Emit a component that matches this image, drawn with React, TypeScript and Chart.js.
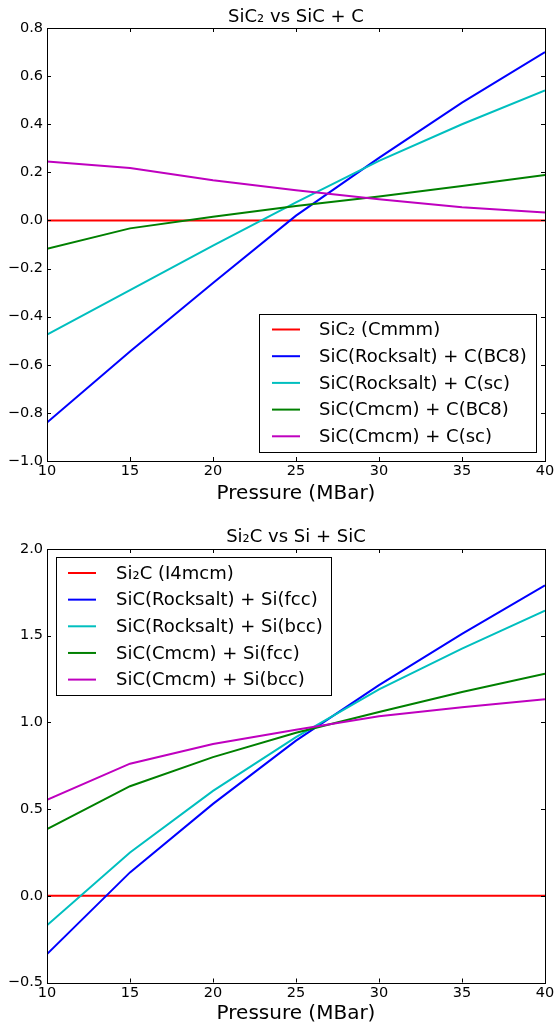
import React, { useEffect, useRef } from "react";
import { Chart, registerables } from "chart.js";

Chart.register(...registerables);

const FONT = "'DejaVu Sans', 'Noto Sans', sans-serif";

// ---------- shared ----------
const pressures = [10, 15, 20, 25, 30, 35, 40];
const xTickValues = [10, 15, 20, 25, 30, 35, 40];
const xAxisTitle = "Pressure (MBar)";
const seriesColors = ["#ff0000", "#0000ff", "#00bfbf", "#008000", "#bf00bf"];

// ---------- top panel: SiC2 vs SiC + C ----------
const topTitle = "SiC₂ vs SiC + C";
const topLabels = [
  "SiC₂ (Cmmm)",
  "SiC(Rocksalt) + C(BC8)",
  "SiC(Rocksalt) + C(sc)",
  "SiC(Cmcm) + C(BC8)",
  "SiC(Cmcm) + C(sc)",
];
const topSic2Cmmm = [0, 0, 0, 0, 0, 0, 0];
const topRocksaltBc8 = [-0.84, -0.545, -0.26, 0.02, 0.26, 0.49, 0.7];
const topRocksaltSc = [-0.475, -0.29, -0.105, 0.075, 0.248, 0.4, 0.54];
const topCmcmBc8 = [-0.118, -0.033, 0.015, 0.06, 0.1, 0.143, 0.189];
const topCmcmSc = [0.245, 0.218, 0.167, 0.126, 0.088, 0.055, 0.033];
const topYTicks = [-1.0, -0.8, -0.6, -0.4, -0.2, 0.0, 0.2, 0.4, 0.6, 0.8];

// ---------- bottom panel: Si2C vs Si + SiC ----------
const bottomTitle = "Si₂C vs Si + SiC";
const bottomLabels = [
  "Si₂C (I4mcm)",
  "SiC(Rocksalt) + Si(fcc)",
  "SiC(Rocksalt) + Si(bcc)",
  "SiC(Cmcm) + Si(fcc)",
  "SiC(Cmcm) + Si(bcc)",
];
const bottomSi2cI4mcm = [0, 0, 0, 0, 0, 0, 0];
const bottomRocksaltFcc = [-0.336, 0.135, 0.53, 0.895, 1.215, 1.51, 1.79];
const bottomRocksaltBcc = [-0.17, 0.25, 0.605, 0.915, 1.19, 1.425, 1.645];
const bottomCmcmFcc = [0.385, 0.632, 0.8, 0.94, 1.06, 1.175, 1.28];
const bottomCmcmBcc = [0.553, 0.762, 0.875, 0.958, 1.035, 1.087, 1.133];
const bottomYTicks = [-0.5, 0.0, 0.5, 1.0, 1.5, 2.0];

function fmtY(v: number) {
  const n = Math.abs(v) < 1e-9 ? 0 : v;
  return n.toFixed(1).replace("-", "\u2212");
}

const mplPlugin = {
  id: "mplFrame",
  afterDatasetsDraw(chart: any, _args: any, opts: any) {
    const ctx: CanvasRenderingContext2D = chart.ctx;
    const { left, top, right, bottom } = chart.chartArea;
    const xs = chart.scales.x;
    const ys = chart.scales.y;
    ctx.save();
    ctx.strokeStyle = "#000";
    ctx.lineWidth = 1;
    const tl = 4;
    ctx.beginPath();
    xs.ticks.forEach((t: any) => {
      const px = Math.round(xs.getPixelForValue(t.value)) + 0.5;
      ctx.moveTo(px, bottom);
      ctx.lineTo(px, bottom - tl);
      ctx.moveTo(px, top);
      ctx.lineTo(px, top + tl);
    });
    ys.ticks.forEach((t: any) => {
      const py = Math.round(ys.getPixelForValue(t.value)) + 0.5;
      ctx.moveTo(left, py);
      ctx.lineTo(left + tl, py);
      ctx.moveTo(right, py);
      ctx.lineTo(right - tl, py);
    });
    ctx.stroke();
    ctx.strokeRect(
      Math.round(left) + 0.5,
      Math.round(top) + 0.5,
      Math.round(right) - Math.round(left),
      Math.round(bottom) - Math.round(top)
    );

    // title
    ctx.fillStyle = "#000";
    ctx.font = `18px ${FONT}`;
    ctx.textAlign = "center";
    ctx.textBaseline = "alphabetic";
    ctx.fillText(opts.title, (left + right) / 2, opts.titleBaseline);

    // legend
    const lg = opts.legend;
    ctx.fillStyle = "#fff";
    ctx.fillRect(lg.x0, lg.y0, lg.x1 - lg.x0, lg.y1 - lg.y0);
    ctx.strokeStyle = "#000";
    ctx.lineWidth = 1;
    ctx.strokeRect(lg.x0, lg.y0, lg.x1 - lg.x0, lg.y1 - lg.y0);
    ctx.font = `18px ${FONT}`;
    ctx.textAlign = "left";
    ctx.textBaseline = "middle";
    chart.data.datasets.forEach((ds: any, i: number) => {
      const y = lg.firstY + i * lg.step;
      ctx.strokeStyle = ds.borderColor;
      ctx.lineWidth = 2;
      ctx.beginPath();
      ctx.moveTo(lg.lineX0, y);
      ctx.lineTo(lg.lineX1, y);
      ctx.stroke();
      ctx.fillStyle = "#000";
      ctx.fillText(ds.label, lg.textX, y + 1);
    });
    ctx.restore();
  },
};

type Panel = {
  title: string;
  labels: string[];
  series: number[][];
  yTicks: number[];
  height: number;
  padTop: number;
  xAxisHeight: number;
  xTitlePad: number;
  titleBaseline: number;
  legend: any;
};

function ChartPanel({ p }: { p: Panel }) {
  const ref = useRef<HTMLCanvasElement>(null);
  useEffect(() => {
    if (!ref.current) return;
    const yMin = p.yTicks[0];
    const yMax = p.yTicks[p.yTicks.length - 1];
    const chart = new Chart(ref.current, {
      type: "line",
      data: {
        datasets: p.series.map((s, i) => ({
          label: p.labels[i],
          data: pressures.map((x, j) => ({ x, y: s[j] })),
          borderColor: seriesColors[i],
          backgroundColor: seriesColors[i],
          borderWidth: 2,
          pointRadius: 0,
          pointHoverRadius: 0,
          fill: false,
          tension: 0,
          order: p.series.length - i,
        })),
      },
      options: {
        responsive: false,
        animation: false,
        devicePixelRatio: 1,
        events: [],
        layout: { padding: { top: p.padTop, right: 13, bottom: 0, left: 0 } },
        plugins: {
          legend: { display: false },
          title: { display: false },
          tooltip: { enabled: false },
          mplFrame: { title: p.title, titleBaseline: p.titleBaseline, legend: p.legend },
        } as any,
        scales: {
          x: {
            type: "linear",
            min: xTickValues[0],
            max: xTickValues[xTickValues.length - 1],
            afterBuildTicks: (s: any) => {
              s.ticks = xTickValues.map((v) => ({ value: v }));
            },
            afterFit: (s: any) => {
              s.height = p.xAxisHeight;
            },
            grid: { display: false, drawTicks: false },
            border: { display: false },
            ticks: {
              padding: 2,
              color: "#000",
              font: { family: FONT, size: 14.5 },
              maxRotation: 0,
              autoSkip: false,
              callback: (v: any) => String(v),
            },
            title: {
              display: true,
              text: xAxisTitle,
              color: "#000",
              font: { family: FONT, size: 20 },
              padding: { top: 0, bottom: p.xTitlePad },
            },
          },
          y: {
            type: "linear",
            min: yMin,
            max: yMax,
            afterBuildTicks: (s: any) => {
              s.ticks = p.yTicks.map((v) => ({ value: v }));
            },
            afterFit: (s: any) => {
              s.width = 47;
            },
            grid: { display: false, drawTicks: false },
            border: { display: false },
            ticks: {
              padding: 4,
              color: "#000",
              font: { family: FONT, size: 14.5 },
              autoSkip: false,
              callback: (v: any) => fmtY(Number(v)),
            },
          },
        },
      } as any,
      plugins: [mplPlugin as any],
    });
    return () => chart.destroy();
  }, [p]);
  return (
    <canvas
      ref={ref}
      width={558}
      height={p.height}
      style={{ display: "block", width: 558, height: p.height }}
    />
  );
}

const topPanel: Panel = {
  title: topTitle,
  labels: topLabels,
  series: [topSic2Cmmm, topRocksaltBc8, topRocksaltSc, topCmcmBc8, topCmcmSc],
  yTicks: topYTicks,
  height: 520,
  padTop: 28,
  xAxisHeight: 59,
  xTitlePad: 14.7,
  titleBaseline: 22,
  legend: { x0: 259.5, y0: 314.5, x1: 536.5, y1: 452.5, firstY: 329.5, step: 26.7, lineX0: 272, lineX1: 300, textX: 319 },
};

const bottomPanel: Panel = {
  title: bottomTitle,
  labels: bottomLabels,
  series: [bottomSi2cI4mcm, bottomRocksaltFcc, bottomRocksaltBcc, bottomCmcmFcc, bottomCmcmBcc],
  yTicks: bottomYTicks,
  height: 510,
  padTop: 29,
  xAxisHeight: 47.5,
  xTitlePad: 4.6,
  titleBaseline: 22,
  legend: { x0: 56.5, y0: 37.5, x1: 331.5, y1: 175.5, firstY: 53, step: 26.65, lineX0: 68, lineX1: 96, textX: 116 },
};

export default function App() {
  return (
    <div style={{ position: "absolute", left: 0, top: 0, width: 558, height: 1030, background: "#fff" }}>
      <ChartPanel p={topPanel} />
      <ChartPanel p={bottomPanel} />
    </div>
  );
}
